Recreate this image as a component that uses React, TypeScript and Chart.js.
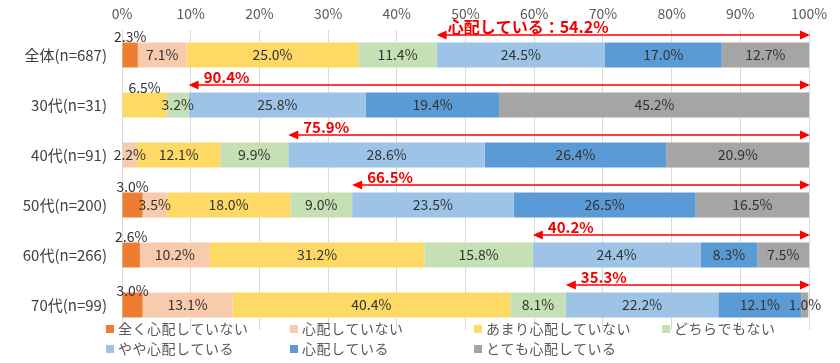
import React, { useEffect, useRef } from "react";
import { Chart, registerables } from "chart.js";

Chart.register(...registerables);

const categories = ["全体(n=687)", "30代(n=31)", "40代(n=91)", "50代(n=200)", "60代(n=266)", "70代(n=99)"];
const seriesNames = [
  "全く心配していない",
  "心配していない",
  "あまり心配していない",
  "どちらでもない",
  "やや心配している",
  "心配している",
  "とても心配している",
];
const notAtAll = [2.3, 0, 0, 3.0, 2.6, 3.0];
const notWorried = [7.1, 0, 2.2, 3.5, 10.2, 13.1];
const notVery = [25.0, 6.5, 12.1, 18.0, 31.2, 40.4];
const neutral = [11.4, 3.2, 9.9, 9.0, 15.8, 8.1];
const somewhat = [24.5, 25.8, 28.6, 23.5, 24.4, 22.2];
const worried = [17.0, 19.4, 26.4, 26.5, 8.3, 12.1];
const veryWorried = [12.7, 45.2, 20.9, 16.5, 7.5, 1.0];
const concernLabels = ["心配している：54.2%", "90.4%", "75.9%", "66.5%", "40.2%", "35.3%"];
const xTicks = [0, 10, 20, 30, 40, 50, 60, 70, 80, 90, 100];

const colors = ["#ED7D31", "#F8CBAD", "#FFD966", "#C5E0B4", "#9DC3E6", "#5B9BD5", "#A5A5A5"];
const allSeries = [notAtAll, notWorried, notVery, neutral, somewhat, worried, veryWorried];
// labels drawn above the bar: [datasetIndex, categoryIndex, offset]
const aboveLabels: [number, number, number][] = [
  [0, 0, 6],
  [2, 1, 5],
  [0, 3, 6],
  [0, 4, 6],
  [0, 5, 2],
];

const FONT = '"Noto Sans CJK JP", "Noto Sans", sans-serif';

const overlayPlugin = {
  id: "overlay",
  afterDatasetsDraw(chart: any) {
    const ctx = chart.ctx;
    const xs = chart.scales.x;
    const ys = chart.scales.y;
    ctx.save();
    ctx.font = `14px ${FONT}`;
    ctx.fillStyle = "#333333";
    ctx.textAlign = "center";
    ctx.textBaseline = "middle";
    chart.data.datasets.forEach((ds: any, di: number) => {
      const meta = chart.getDatasetMeta(di);
      meta.data.forEach((bar: any, i: number) => {
        const v = ds.data[i];
        if (!v) return;
        const p = bar.getProps(["x", "base", "y", "height"], true);
        const cx = (p.x + p.base) / 2;
        let cy = p.y;
        const ab = aboveLabels.find((a) => a[0] === di && a[1] === i);
        if (ab) cy = p.y - p.height / 2 - ab[2];
        ctx.fillText(v.toFixed(1) + "%", cx, cy);
      });
    });

    // arrows
    categories.forEach((_, i) => {
      const startPct = notAtAll[i] + notWorried[i] + notVery[i] + neutral[i];
      const x0 = xs.getPixelForValue(startPct);
      const x1 = xs.getPixelForValue(100) + 1;
      const yc = ys.getPixelForValue(i) - 20;
      ctx.strokeStyle = "#FF0000";
      ctx.fillStyle = "#FF0000";
      ctx.lineWidth = 1.3;
      ctx.beginPath();
      ctx.moveTo(x0 + 6, yc);
      ctx.lineTo(x1 - 6, yc);
      ctx.stroke();
      const hl = 10, hw = 4.5;
      ctx.beginPath();
      ctx.moveTo(x0, yc);
      ctx.lineTo(x0 + hl, yc - hw);
      ctx.lineTo(x0 + hl, yc + hw);
      ctx.closePath();
      ctx.fill();
      ctx.beginPath();
      ctx.moveTo(x1, yc);
      ctx.lineTo(x1 - hl, yc - hw);
      ctx.lineTo(x1 - hl, yc + hw);
      ctx.closePath();
      ctx.fill();
      ctx.font = `bold ${i === 0 ? 16 : 15}px ${FONT}`;
      ctx.textAlign = "left";
      ctx.textBaseline = "middle";
      ctx.fillStyle = "#F00000";
      ctx.fillText(concernLabels[i], x0 + (i === 0 ? 11 : 15), yc - 8);
    });
    ctx.restore();
  },
  afterDraw(chart: any) {
    const ctx = chart.ctx;
    ctx.save();
    const cols = [106, 290, 474, 662];
    const rows = [329, 349];
    ctx.font = `14px ${FONT}`;
    try {
      (ctx as any).letterSpacing = "0.5px";
    } catch (e) {}
    ctx.textAlign = "left";
    ctx.textBaseline = "middle";
    chart.data.datasets.forEach((ds: any, di: number) => {
      const r = di < 4 ? 0 : 1;
      const c = di < 4 ? di : di - 4;
      const x = cols[c];
      const y = rows[r];
      ctx.fillStyle = ds.backgroundColor;
      ctx.fillRect(x, y - 4, 8, 8);
      ctx.fillStyle = "#595959";
      ctx.fillText(ds.label, x + 12, y);
    });
    ctx.restore();
  },
};

export default function App() {
  const ref = useRef<HTMLCanvasElement>(null);
  useEffect(() => {
    if (!ref.current) return;
    const chart = new Chart(ref.current, {
      type: "bar",
      data: {
        labels: categories,
        datasets: allSeries.map((d, i) => ({
          label: seriesNames[i],
          data: d,
          backgroundColor: colors[i],
          borderWidth: 0,
          barPercentage: 0.5,
          categoryPercentage: 1,
        })),
      },
      options: {
        indexAxis: "y",
        animation: false,
        responsive: true,
        maintainAspectRatio: false,
        layout: { padding: { left: 0, right: 31, top: 0, bottom: 33 } },
        plugins: { legend: { display: false }, tooltip: { enabled: false } },
        scales: {
          x: {
            stacked: true,
            position: "top",
            min: 0,
            max: 100,
            afterBuildTicks: (scale: any) => {
              scale.ticks = xTicks.map((v) => ({ value: v }));
            },
            afterFit: (scale: any) => {
              scale.height = 30;
            },
            ticks: {
              callback: (v: any) => v + "%",
              font: { size: 14, family: FONT },
              color: "#595959",
              padding: 8,
              maxRotation: 0,
            },
            grid: { color: "#D9D9D9", drawTicks: false },
            border: { display: false },
          },
          y: {
            stacked: true,
            afterFit: (scale: any) => {
              scale.width = 122;
            },
            ticks: {
              font: { size: 15, family: FONT },
              color: "#404040",
              padding: 15,
            },
            grid: { display: false, drawTicks: false },
            border: { display: false },
          },
        },
      },
      plugins: [overlayPlugin],
    });
    return () => chart.destroy();
  }, []);
  return (
    <div style={{ position: "fixed", left: 0, top: 0, width: 840, height: 363, background: "#fff" }}>
      <canvas ref={ref} />
    </div>
  );
}
